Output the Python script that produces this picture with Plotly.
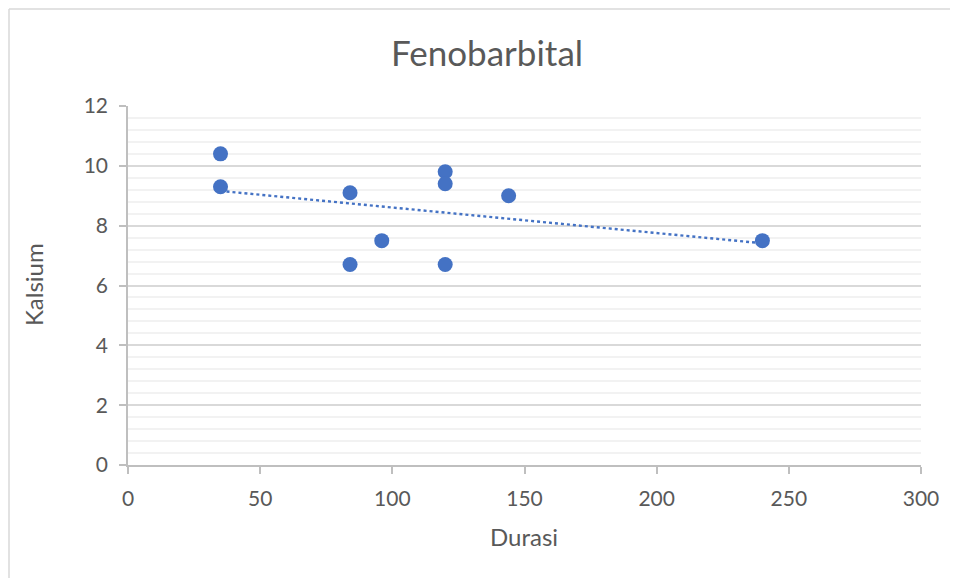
import numpy as np
import plotly.graph_objects as go

# Durasi vs Kalsium
durasi = [35, 35, 84, 84, 96, 120, 120, 120, 144, 240]
kalsium = [10.4, 9.3, 9.1, 6.7, 7.5, 9.8, 9.4, 6.7, 9.0, 7.5]

blue = "#4472C4"
grey_txt = "#595959"
font = "Lato, 'Open Sans', sans-serif"

# linear trendline (like excel)
slope, icpt = np.polyfit(durasi, kalsium, 1)
tx = [min(durasi), max(durasi)]
ty = [slope * v + icpt for v in tx]

fig = go.Figure()
fig.add_trace(go.Scatter(
    x=tx, y=ty, mode="lines",
    line=dict(color=blue, width=2.4, dash="dot"),
    hoverinfo="skip"
))
fig.add_trace(go.Scatter(
    x=durasi, y=kalsium, mode="markers",
    marker=dict(color=blue, size=15)
))

# page body has an 8px margin, so work in screen pixels and shift
OFF = 8
W, H = 950, 570
L, R, T, B = 128 - OFF, 37, 106 - OFF, 113
pw, ph = W - L - R, H - T - B

def px(x):
    return (x - OFF - L) / pw

def py(y):
    return (H - B - (y - OFF)) / ph

def label(text, x, y, size, angle=0):
    return dict(text=text, x=px(x), y=py(y), xref="paper", yref="paper",
                xanchor="center", yanchor="middle", showarrow=False,
                textangle=angle, font=dict(size=size, color=grey_txt))

frame = dict(color="#D9D9D9", width=1.5)

fig.update_layout(
    width=W, height=H,
    margin=dict(l=L, r=R, t=T, b=B),
    paper_bgcolor="white", plot_bgcolor="white",
    showlegend=False,
    font=dict(family=font, color=grey_txt, size=16),
    xaxis=dict(
        range=[0, 300], dtick=50, showgrid=False, zeroline=False,
        showline=True, linecolor="#BFBFBF", linewidth=1.5,
        ticks="outside", ticklen=7, tickcolor="#BFBFBF", tickwidth=1.5,
        tickfont=dict(size=21, color=grey_txt), ticklabelstandoff=7,
    ),
    yaxis=dict(
        range=[0, 12], dtick=2, showgrid=True, gridcolor="#D9D9D9", gridwidth=1.5,
        zeroline=False, showline=True, linecolor="#BFBFBF", linewidth=1.5,
        ticks="outside", ticklen=7, tickcolor="#BFBFBF", tickwidth=1.5,
        tickfont=dict(size=21, color=grey_txt), ticklabelstandoff=7,
        minor=dict(dtick=0.4, showgrid=True, gridcolor="#F2F2F2", gridwidth=1.5),
    ),
    annotations=[
        label("Fenobarbital", 487, 52, 35),
        label("Durasi", 524, 536, 24),
        label("Kalsium", 33, 285, 24, angle=-90),
    ],
    shapes=[
        dict(type="line", xref="paper", yref="paper",
             x0=px(9), x1=px(9), y0=py(578), y1=py(9), line=frame, layer="below"),
        dict(type="line", xref="paper", yref="paper",
             x0=px(9), x1=px(958), y0=py(9), y1=py(9), line=frame, layer="below"),
    ],
)

fig.write_html("out.html")
